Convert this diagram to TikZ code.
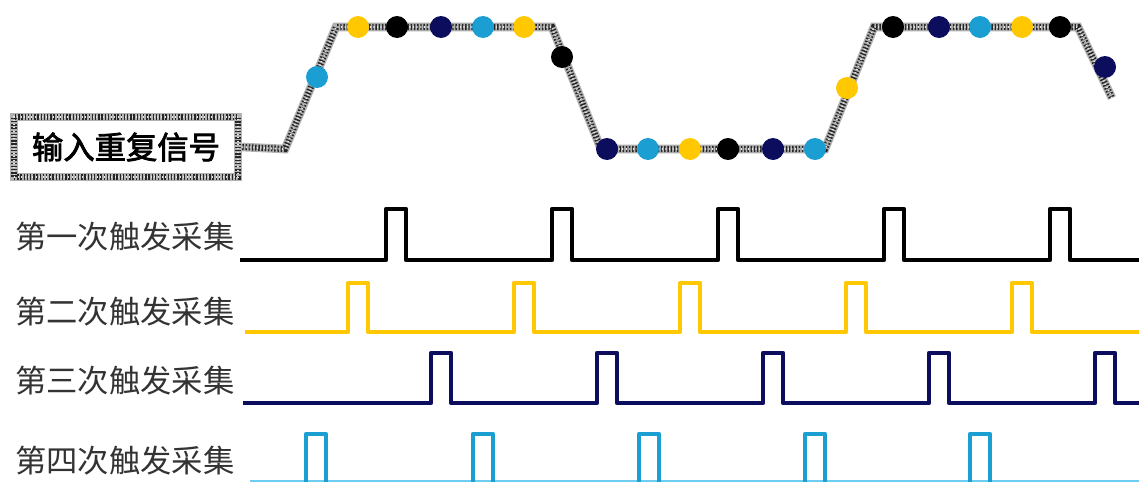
\documentclass[tikz,border=0pt]{standalone}
\usepackage{fontspec}
\newfontfamily\cjk{Noto Sans CJK SC}[AutoFakeBold=2.5]
\usetikzlibrary{positioning}
\definecolor{trigblack}{HTML}{000000}
\definecolor{trigyellow}{HTML}{FFC800}
\definecolor{trignavy}{HTML}{0D0D5E}
\definecolor{trigcyan}{HTML}{1B9FD2}
\definecolor{trigsky}{HTML}{6CCDF0}

\begin{document}
\begin{tikzpicture}[x=0.75pt, y=-0.75pt,
    grainy/.style={draw=gray!60, line width=6.5pt,
        postaction={draw=black!85, line width=4.6pt, dash pattern=on 1.1pt off 1.3pt},
        postaction={draw=white!80!gray, line width=1.4pt, dash pattern=on 0.8pt off 1.9pt}},
    lab/.style={font=\cjk\fontsize{23.5}{25}\selectfont, text=black!80},
    train/.style={line width=3.6pt, line join=round},
    dot/.style={circle, inner sep=0pt, minimum size=16.5pt}
  ]
    \useasboundingbox (0,0) rectangle (1139,482);

    % input signal and the sampled points on it
    \node[grainy, minimum width=168pt, minimum height=45pt,
          font=\cjk\bfseries\fontsize{23.5}{25}\selectfont] (sig) at (126,147) {输入重复信号};
    \draw[grainy] (sig.east) -- (285,149) -- (336,27) -- (552,27) -- (601,149)
        -- (825,149) -- (874,27) -- (1078,27) -- (1112,98);
    \foreach \x/\y/\c [count=\i] in {317/77/trigcyan, 358/27/trigyellow, 397/27/trigblack,
        441/27/trignavy, 483/27/trigcyan, 524/27/trigyellow, 562/57/trigblack,
        607/149/trignavy, 648/149/trigcyan, 690/149/trigyellow, 728/149/trigblack,
        773/149/trignavy, 815/149/trigcyan, 847/88/trigyellow, 893/27/trigblack,
        939/27/trignavy, 980/27/trigcyan, 1022/27/trigyellow, 1060/27/trigblack,
        1105/67/trignavy}
      \node[dot, fill=\c] (d\i) at (\x,\y) {};

    % trigger trains
    \node[lab] (t1) at (125,237) {第一次触发采集};
    \node[lab] (t2) at (125,312) {第二次触发采集};
    \node[lab] (t3) at (125,381) {第三次触发采集};
    \node[lab] (t4) at (125,461) {第四次触发采集};

    \draw[train, trigblack] (240,260)
      \foreach \x in {396,562,728,894,1060} { -- (\x-10,260) -- (\x-10,209) -- (\x+10,209) -- (\x+10,260) }
      -- (1139,260);
    \draw[train, trigyellow] (245,332)
      \foreach \x in {358,524,690,856,1022} { -- (\x-10,332) -- (\x-10,283) -- (\x+10,283) -- (\x+10,332) }
      -- (1139,332);
    \draw[train, trignavy] (243,403)
      \foreach \x in {441,607,773,939,1105} { -- (\x-10,403) -- (\x-10,353) -- (\x+10,353) -- (\x+10,403) }
      -- (1139,403);
    \draw[train, trigsky] (250,482) -- (1139,482);
    \foreach \x in {316,483,649,815,980}
      \draw[train, trigcyan] (\x-10,482) -- (\x-10,434) -- (\x+10,434) -- (\x+10,482);
\end{tikzpicture}
\end{document}
